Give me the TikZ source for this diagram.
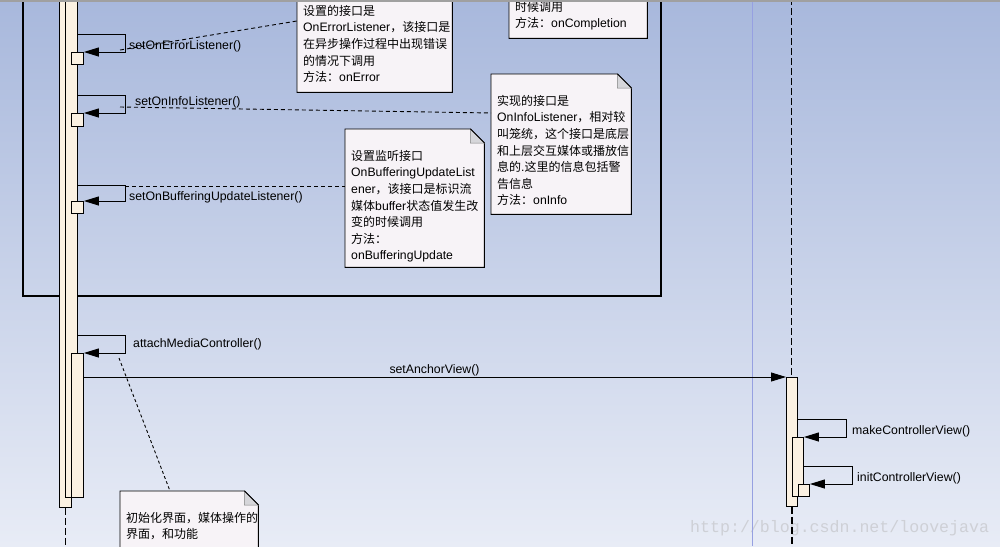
\documentclass[tikz,border=0pt]{standalone}
\usepackage{fontspec}
\setmainfont{Liberation Sans}
\newfontfamily\cjk{Noto Sans CJK SC}
\newfontfamily\enfont{Liberation Sans}[Scale=1.02]
\newfontfamily\wmfont{Liberation Mono}
\usetikzlibrary{arrows.meta}
\definecolor{bgtop}{RGB}{168,184,220}
\definecolor{bgbot}{RGB}{232,236,246}
\definecolor{barfill}{RGB}{251,241,226}
\definecolor{notefill}{RGB}{247,243,247}
\definecolor{noteshadow}{RGB}{165,165,172}
\definecolor{foldfill}{RGB}{214,214,218}
\definecolor{guide}{RGB}{150,160,225}
\definecolor{wmark}{RGB}{206,208,214}
\definecolor{topline}{RGB}{160,160,160}
\newcommand\en[1]{{\enfont#1}}
\tikzset{
  actbar/.style={draw=black, fill=barfill, line width=.9pt, inner sep=0pt, anchor=north west},
  lifeline/.style={line width=1.1pt, dash pattern=on 7pt off 3pt},
  selfmsg/.style={line width=.9pt, -{Triangle[length=15pt,width=9pt]}},
  msglabel/.style={font=\fontsize{12.3}{14}\selectfont, inner sep=0pt, anchor=base west},
  notebox/.style={inner sep=0pt, anchor=north west},
  notetext/.style={font=\cjk\fontsize{12}{16.6}\selectfont, align=left, inner sep=0pt, anchor=north west},
  notelink/.style={line width=.9pt, dash pattern=on 4pt off 3pt},
  notelink2/.style={line width=.9pt, dash pattern=on 3pt off 2.5pt},
}
% folded note: name, x, y, width, height, text
\newcommand\umlnote[6]{%
  \node[notebox, minimum width=#4pt, minimum height=#5pt] (#1) at (#2,#3) {};
  \fill[noteshadow, shift={(3,3)}] (#1.north west) -- ([xshift=-14pt]#1.north east) -- ([yshift=-14pt]#1.north east) -- (#1.south east) -- (#1.south west) -- cycle;
  \filldraw[fill=notefill, line width=.9pt] (#1.north west) -- ([xshift=-14pt]#1.north east) -- ([yshift=-14pt]#1.north east) -- (#1.south east) -- (#1.south west) -- cycle;
  \filldraw[fill=foldfill, draw=gray, line width=.5pt] ([xshift=-14pt]#1.north east) -- ([xshift=-14pt,yshift=-14pt]#1.north east) -- ([yshift=-14pt]#1.north east) -- cycle;
  \draw[line width=.9pt] ([xshift=-14pt]#1.north east) -- ([yshift=-14pt]#1.north east);
  \node[notetext] (#1-txt) at ([xshift=6pt,yshift=-20pt]#1.north west) {\rule{0pt}{11pt}#6};
}
\begin{document}
\begin{tikzpicture}[x=1pt,y=-1pt]
\useasboundingbox (0,0) rectangle (1000,546);
\clip (0,0) rectangle (1000,546);
\shade[top color=bgtop, bottom color=bgbot] (0,0) rectangle (1000,546);
\node[font=\wmfont\fontsize{16.6}{18}\selectfont, text=wmark, inner sep=0pt, anchor=base west] (wm) at (690,532) {http://blog.csdn.net/loovejava};
\draw[guide, line width=.6pt] (752,0) -- (752,546);
% combined fragment
\draw[line width=1.1pt] (23,-20) |- (661,296) -- (661,-20);
% left lifeline
\node[actbar, minimum width=12pt, minimum height=527pt] (lA) at (59,-20) {};
\node[actbar, minimum width=12pt, minimum height=517pt] (lB) at (65,-20) {};
\foreach \n/\y/\h in {sErr/52/12, sInfo/113/13, sBuf/201/12}
  \node[actbar, minimum width=12pt, minimum height=\h pt] (\n) at (71,\y) {};
\node[actbar, minimum width=12pt, minimum height=144pt] (lC) at (71,353) {};
\draw[lifeline] (lA.south) -- (lA.south |- 0,550);
% right lifeline
\draw[lifeline] (791.5,-2) -- (791.5,377);
\node[actbar, minimum width=11pt, minimum height=129pt] (lD) at (786,377) {};
\node[actbar, minimum width=11pt, minimum height=59pt] (lE) at (792,437) {};
\node[actbar, minimum width=11pt, minimum height=12pt] (sInit) at (798,484) {};
\draw[lifeline] (lD.south) -- (lD.south |- 0,550);
% messages
\foreach \y/\n in {34/sErr, 95/sInfo, 185/sBuf, 335/lC}
  \draw[selfmsg] (lB.east |- 0,\y) -- ++(48,0) |- (\n.north east);
\draw[selfmsg] (lC.east |- 0,377) -- (lD.north west);
\draw[selfmsg] (lD.east |- 0,419) -- ++(49,0) |- (lE.north east);
\draw[selfmsg] (lE.east |- 0,466) -- ++(49,0) |- (sInit.north east);
% notes
\umlnote{ncomp}{509}{-20}{138}{58}{时候调用\\方法：\en{onCompletion}}
\umlnote{nerr}{297}{-16}{155}{108}{设置的接口是\\\en{OnErrorListener}，该接口是\\在异步操作过程中出现错误\\的情况下调用\\方法：\en{onError}}
\umlnote{ninfo}{491}{74}{140}{140}{实现的接口是\\\en{OnInfoListener}，相对较\\叫笼统，这个接口是底层\\和上层交互媒体或播放信\\息的\en{.}这里的信息包括警\\告信息\\方法：\en{onInfo}}
\umlnote{nbuf}{345}{129}{139}{138}{设置监听接口\\\en{OnBufferingUpdateList}\\\en{ener}，该接口是标识流\\媒体\en{buffer}状态值发生改\\变的时候调用\\方法：\\\en{onBufferingUpdate}}
\umlnote{ninit}{120}{491}{138}{80}{初始化界面，媒体操作的\\界面，和功能}
% note links
\coordinate (errlink) at (120,50);
\coordinate (infolink) at (120,107);
\coordinate (buflink) at (125,186);
\coordinate (initlink) at (119,358);
\draw[notelink] (errlink) -- ([yshift=-37pt]nerr.north west);
\draw[notelink] (infolink) -- ([yshift=-39pt]ninfo.north west);
\draw[notelink] (buflink) -- ([yshift=-57pt]nbuf.north west);
\draw[notelink2] (initlink) -- ([xshift=50pt]ninit.north west);
% labels
\node[msglabel] (lbErr) at (129,49) {setOnErrorListener()};
\node[msglabel] (lbInfo) at (135,105) {setOnInfoListener()};
\node[msglabel] (lbBuf) at (129,200.5) {setOnBufferingUpdateListener()};
\node[msglabel] (lbAttach) at (133,347) {attachMediaController()};
\node[msglabel, anchor=base] (lbAnchor) at (434.5,373) {setAnchorView()};
\node[msglabel] (lbMake) at (852,434.5) {makeControllerView()};
\node[msglabel] (lbInit) at (857,481.5) {initControllerView()};
\draw[topline, line width=1.6pt] (0,1) -- (1000,1);
\end{tikzpicture}
\end{document}
